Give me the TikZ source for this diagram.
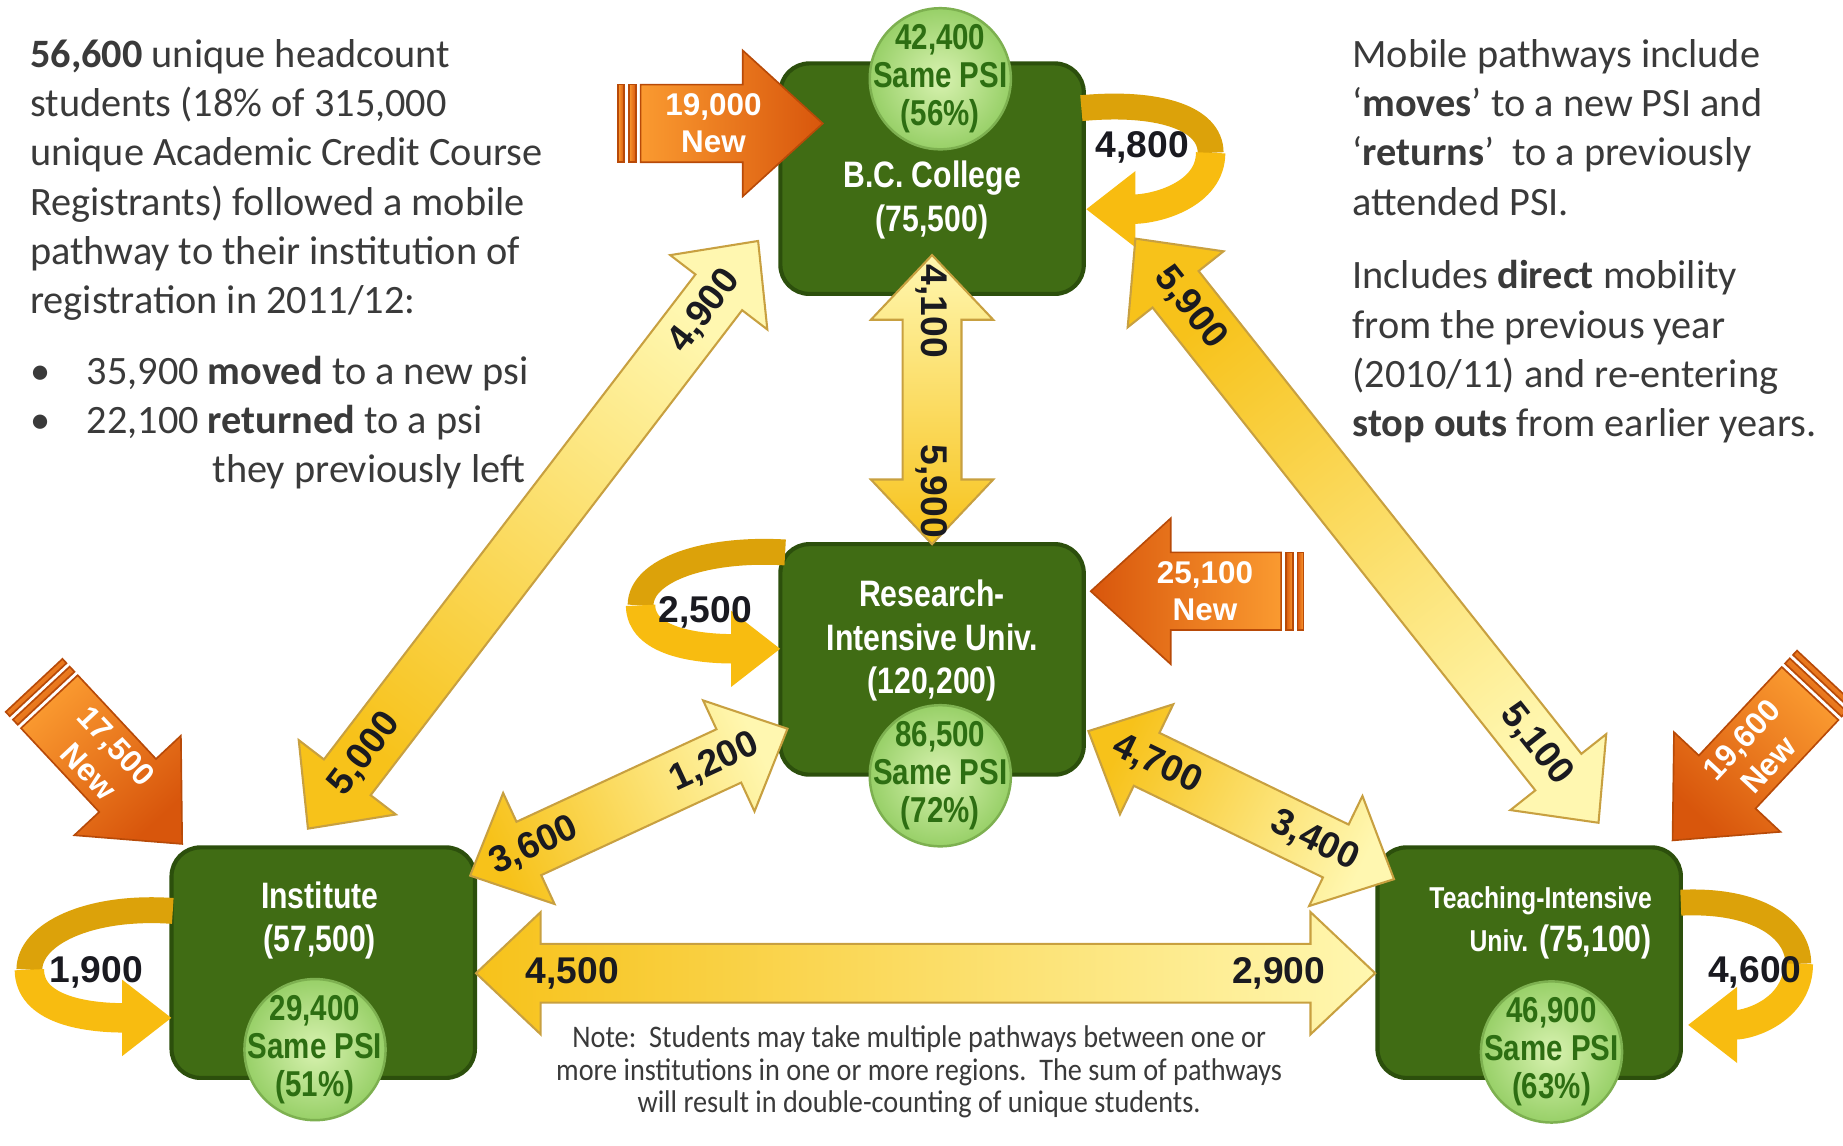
\documentclass[tikz,border=0pt]{standalone}
\usepackage{fontspec}
\setmainfont{Carlito}
\newfontfamily\narrowsans[FakeStretch=0.82]{Liberation Sans}
\newfontfamily\plainsans{Liberation Sans}
\newfontfamily\notefont[FakeStretch=0.9]{Carlito}
\usetikzlibrary{arrows.meta,positioning,calc}
\definecolor{BoxGreen}{RGB}{64,108,20}
\definecolor{BoxEdge}{RGB}{44,79,12}
\definecolor{PsiLight}{RGB}{216,242,176}
\definecolor{PsiDark}{RGB}{152,208,104}
\definecolor{PsiEdge}{RGB}{125,176,80}
\definecolor{PsiText}{RGB}{45,110,18}
\definecolor{FlowLight}{RGB}{255,247,176}
\definecolor{FlowDark}{RGB}{247,194,26}
\definecolor{FlowEdge}{RGB}{200,160,64}
\definecolor{NewLight}{RGB}{250,154,48}
\definecolor{NewDark}{RGB}{216,86,12}
\definecolor{NewEdge}{RGB}{184,74,8}
\definecolor{LoopGold}{RGB}{248,188,16}
\definecolor{LoopBack}{RGB}{220,162,10}
\definecolor{TextGray}{RGB}{58,58,58}
\definecolor{LabelInk}{RGB}{26,26,32}
\tikzset{
    instbox/.style={draw=BoxEdge, line width=1pt, fill=BoxGreen, rounded corners=7pt, minimum width=2.58cm, minimum height=1.96cm},
    insttext/.style={text=white, font=\narrowsans\bfseries\fontsize{8.9}{10.5}\selectfont, align=center, inner sep=0pt},
    samepsi/.style={circle, draw=PsiEdge, line width=0.6pt, inner color=PsiLight, outer color=PsiDark, minimum size=1.2cm, inner sep=0pt},
    psitext/.style={align=center, inner sep=0pt, text=PsiText, font=\narrowsans\bfseries\fontsize{8.7}{9.2}\selectfont},
    flowfill/.style={draw=FlowEdge, line width=0.5pt, top color=FlowDark, bottom color=FlowLight},
    flowlabel/.style={font=\plainsans\bfseries\fontsize{9}{9}\selectfont, text=LabelInk, inner sep=0pt},
    newfill/.style={draw=NewEdge, line width=0.4pt, top color=NewDark, bottom color=NewLight},
    newlabel/.style={font=\plainsans\bfseries\fontsize{7.6}{9}\selectfont, text=white, align=center, inner sep=0pt},
    loopback/.style={draw=LoopBack, line width=0.22cm},
    loopfront/.style={draw=LoopGold, line width=0.25cm, -{Triangle[width=0.62cm,length=0.42cm]}},
    looplabel/.style={font=\plainsans\bfseries\fontsize{9}{9}\selectfont, text=LabelInk, inner sep=0pt},
    bodytext/.style={font=\fontsize{9.75}{11.9}\selectfont, text=TextGray, align=left, inner sep=0pt},
    notetext/.style={font=\notefont\fontsize{7.6}{7.94}\selectfont, text=TextGray, align=center, inner sep=0pt},
}
\newcommand{\hdlen}{0.55cm}
\newcommand{\hdwid}{0.52cm}
\newcommand{\shwid}{0.25cm}
\newcommand{\nhlen}{0.68cm}
\newcommand{\nhwid}{0.62cm}
\newcommand{\nswid}{0.33cm}
% two-way flow: from, to, shading angle, dist, label at from, dist, label at to
\newcommand{\flowarrow}[7]{%
  \path[flowfill, shading angle=#3]
    (#1) -- ($(#1)!\hdlen!(#2)!\hdwid!90:(#2)$) -- ($(#1)!\hdlen!(#2)!\shwid!90:(#2)$)
    -- ($(#2)!\hdlen!(#1)!\shwid!-90:(#1)$) -- ($(#2)!\hdlen!(#1)!\hdwid!-90:(#1)$)
    -- (#2) -- ($(#2)!\hdlen!(#1)!\hdwid!90:(#1)$) -- ($(#2)!\hdlen!(#1)!\shwid!90:(#1)$)
    -- ($(#1)!\hdlen!(#2)!\shwid!-90:(#2)$) -- ($(#1)!\hdlen!(#2)!\hdwid!-90:(#2)$) -- cycle;
  \path let \p1 = ($(#2)-(#1)$), \n1 = {atan2(\y1,\x1)},
    \n2 = {\n1 > 90 ? \n1 - 180 : (\n1 < -90 ? \n1 + 180 : \n1)} in
    node[flowlabel, rotate=\n2] (#1-#2-a) at ($(#1)!#4!(#2)$) {#5}
    node[flowlabel, rotate=\n2] (#1-#2-b) at ($(#2)!#6!(#1)$) {#7};
}
% new entrants: tail, tip, shading angle, text
\newcommand{\newarrow}[4]{%
  \path[newfill, shading angle=#3]
    (#2) -- ($(#2)!\nhlen!(#1)!\nhwid!90:(#1)$) -- ($(#2)!\nhlen!(#1)!\nswid!90:(#1)$)
    -- ($(#1)!\nswid!-90:(#2)$) -- ($(#1)!\nswid!90:(#2)$)
    -- ($(#2)!\nhlen!(#1)!\nswid!-90:(#1)$) -- ($(#2)!\nhlen!(#1)!\nhwid!-90:(#1)$) -- cycle;
  \path[newfill, shading angle=#3] ($(#1)!-0.04cm!(#2)!\nswid!90:(#2)$) -- ($(#1)!-0.1cm!(#2)!\nswid!90:(#2)$)
    -- ($(#1)!-0.1cm!(#2)!\nswid!-90:(#2)$) -- ($(#1)!-0.04cm!(#2)!\nswid!-90:(#2)$) -- cycle;
  \path[newfill, shading angle=#3] ($(#1)!-0.14cm!(#2)!\nswid!90:(#2)$) -- ($(#1)!-0.19cm!(#2)!\nswid!90:(#2)$)
    -- ($(#1)!-0.19cm!(#2)!\nswid!-90:(#2)$) -- ($(#1)!-0.14cm!(#2)!\nswid!-90:(#2)$) -- cycle;
  \path let \p1 = ($(#2)-(#1)$), \n1 = {atan2(\y1,\x1)},
    \n2 = {\n1 > 90 ? \n1 - 180 : (\n1 < -90 ? \n1 + 180 : \n1)} in
    node[newlabel, rotate=\n2] (#1-text) at ($(#1)!0.4!(#2)$) {#4};
}

\begin{document}
\begin{tikzpicture}[x=0.01cm, y=-0.01cm]
\useasboundingbox (0,0) rectangle (1568,975);
\fill[white] (0,0) rectangle (1568,975);

% side texts
\node[bodytext, anchor=north west] (intro) at (25,33) {\textbf{56,600} unique headcount\\students (18\% of 315,000\\unique Academic Credit Course\\Registrants) followed a mobile\\pathway to their institution of\\registration in 2011/12:};
\node[bodytext, anchor=north west] (split) at (25,302) {\makebox[0.48cm][l]{\textbullet}35,900 \textbf{moved} to a new psi\\\makebox[0.48cm][l]{\textbullet}22,100 \textbf{returned} to a psi\\\hspace*{1.55cm}they previously left};
\node[bodytext, anchor=north west] (moves) at (1150,33) {Mobile pathways include\\‘\textbf{moves}’ to a new PSI and\\‘\textbf{returns}’\ \ to a previously\\attended PSI.};
\node[bodytext, anchor=north west] (direct) at (1150,221) {Includes \textbf{direct} mobility\\from the previous year\\(2010/11) and re-entering\\\textbf{stop outs} from earlier years.};
\node[notetext] (note) at (782,912) {Note:\ \ Students may take multiple pathways between one or\\more institutions in one or more regions.\ \ The sum of pathways\\will result in double-counting of unique students.};

% institutions
\node[instbox] (bc) at (793,152) {};
\node[instbox] (riu) at (793,561) {};
\node[instbox] (ins) at (275,819) {};
\node[instbox] (tiu) at (1301,819) {};
\node[insttext] (bcName) at (793,170) {B.C. College\\(75,500)};
\node[insttext] (riuName) at (793,545) {Research-\\Intensive Univ.\\(120,200)};
\node[insttext] (insName) at (272,783) {Institute\\(57,500)};
\node[insttext, align=right, anchor=east] (tiuName) at (1406,785) {{\fontsize{7.3}{9}\selectfont Teaching-Intensive}\\{\fontsize{7.3}{9}\selectfont Univ.} (75,100)};

\node[samepsi] (bcSame) at (800,67) {};
\node[samepsi] (riuSame) at (800,660) {};
\node[samepsi] (insSame) at (268,893) {};
\node[samepsi] (tiuSame) at (1320,895) {};
\node[psitext] (bcSameText) at (bcSame) {42,400\\Same PSI\\(56\%)};
\node[psitext] (riuSameText) at (riuSame) {86,500\\Same PSI\\(72\%)};
\node[psitext] (insSameText) at (insSame) {29,400\\Same PSI\\(51\%)};
\node[psitext] (tiuSameText) at (tiuSame) {46,900\\Same PSI\\(63\%)};

% stays at the same type
\coordinate (bcLa) at (920,92);
\coordinate (bcLb) at (1030,130);
\coordinate (bcLc) at (924,178);
\draw[loopback] (bcLa) .. controls (985,86) and (1030,100) .. (bcLb);
\draw[loopfront] (bcLb) .. controls (1030,165) and (985,178) .. (bcLc);
\node[looplabel] (bcStay) at (972,125) {4,800};

\coordinate (riuLa) at (668,470);
\coordinate (riuLb) at (545,515);
\coordinate (riuLc) at (664,552);
\draw[loopback] (riuLa) .. controls (600,466) and (545,485) .. (riuLb);
\draw[loopfront] (riuLb) .. controls (545,545) and (590,552) .. (riuLc);
\node[looplabel] (riuStay) at (600,521) {2,500};

\coordinate (insLa) at (147,775);
\coordinate (insLb) at (25,825);
\coordinate (insLc) at (146,866);
\draw[loopback] (insLa) .. controls (75,770) and (25,795) .. (insLb);
\draw[loopfront] (insLb) .. controls (25,858) and (70,866) .. (insLc);
\node[looplabel] (insStay) at (82,827) {1,900};

\coordinate (tiuLa) at (1430,768);
\coordinate (tiuLb) at (1530,820);
\coordinate (tiuLc) at (1436,872);
\draw[loopback] (tiuLa) .. controls (1495,765) and (1530,790) .. (tiuLb);
\draw[loopfront] (tiuLb) .. controls (1530,858) and (1490,872) .. (tiuLc);
\node[looplabel] (tiuStay) at (1493,827) {4,600};

% new students
\coordinate (bcNewTail) at (545,105);
\coordinate (bcNewTip) at (700,105);
\coordinate (riuNewTail) at (1090,503);
\coordinate (riuNewTip) at (928,503);
\coordinate (insNewTail) at (42,597);
\coordinate (insNewTip) at (155,718);
\coordinate (tiuNewTail) at (1540,590);
\coordinate (tiuNewTip) at (1423,715);
\newarrow{bcNewTail}{bcNewTip}{-90}{19,000\\New}
\newarrow{riuNewTail}{riuNewTip}{90}{25,100\\New}
\newarrow{insNewTail}{insNewTip}{-137}{17,500\\New}
\newarrow{tiuNewTail}{tiuNewTip}{137}{19,600\\New}

% moves between types
\coordinate (bcA1) at (645,205);
\coordinate (insA1) at (262,705);
\coordinate (bcA2) at (793,217);
\coordinate (riuA2) at (793,463);
\coordinate (bcA3) at (966,203);
\coordinate (tiuA3) at (1360,700);
\coordinate (insA4) at (400,745);
\coordinate (riuA4) at (670,620);
\coordinate (riuA5) at (926,622);
\coordinate (tiuA5) at (1186,748);
\coordinate (insA6) at (405,828);
\coordinate (tiuA6) at (1170,828);
\flowarrow{bcA1}{insA1}{142.5}{0.75cm}{4,900}{0.8cm}{5,000}
\flowarrow{bcA2}{riuA2}{180}{0.48cm}{4,100}{0.45cm}{5,900}
\flowarrow{bcA3}{tiuA3}{38.4}{0.75cm}{5,900}{0.85cm}{5,100}
\flowarrow{insA4}{riuA4}{114.8}{0.6cm}{3,600}{0.68cm}{1,200}
\flowarrow{riuA5}{tiuA5}{64.1}{0.65cm}{4,700}{0.75cm}{3,400}
\flowarrow{insA6}{tiuA6}{90}{0.82cm}{4,500}{0.82cm}{2,900}
\end{tikzpicture}
\end{document}
